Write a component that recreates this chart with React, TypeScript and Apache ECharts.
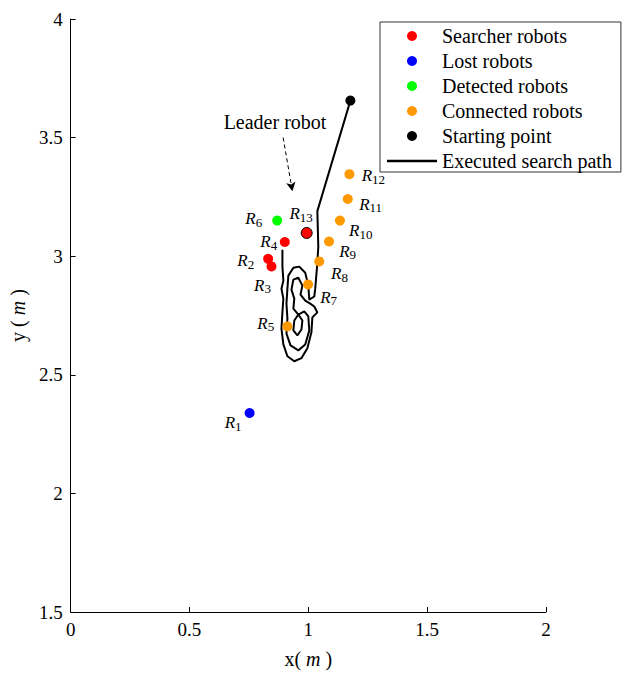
import React, { useEffect, useRef } from "react";
import * as echarts from "echarts";

// Robot positions (metres)
const robotIds = [1, 2, 3, 4, 5, 6, 7, 8, 9, 10, 11, 12, 13];
const robotX = [0.753, 0.831, 0.845, 0.901, 0.912, 0.869, 0.999, 1.046, 1.087, 1.133, 1.166, 1.173, 0.993];
const robotY = [2.339, 2.989, 2.957, 3.06, 2.704, 3.15, 2.881, 2.978, 3.062, 3.15, 3.241, 3.346, 3.098];
const robotState = [
  "lost", "searcher", "searcher", "searcher", "connected", "detected", "connected",
  "connected", "connected", "connected", "connected", "connected", "searcher",
];
const leaderId = 13;

// Where the leader set off
const startPoint = [1.177, 3.656];

// Executed search path of the leader robot
const pathX = [
  1.177, 1.038, 1.042, 1.036, 1.029, 1.025, 1.004, 1.0, 0.987, 0.962, 0.937, 0.916, 0.912, 0.908,
  0.912, 0.908, 0.925, 0.958, 0.987, 1.004, 1.0, 0.983, 0.958, 0.941, 0.937, 0.954, 0.971, 0.975,
  0.958, 0.937, 0.941, 0.929, 0.937, 0.958, 0.975, 0.967, 0.987, 1.008, 1.025, 1.038, 1.017, 1.013,
  0.996, 0.971, 0.941, 0.912, 0.895, 0.887, 0.891, 0.895, 0.887, 0.895, 0.891, 0.891,
];
const pathY = [
  3.656, 3.19, 3.039, 2.947, 2.863, 2.83, 2.817, 2.876, 2.93, 2.956, 2.951, 2.918, 2.863, 2.8,
  2.737, 2.674, 2.624, 2.603, 2.628, 2.687, 2.746, 2.767, 2.754, 2.729, 2.687, 2.666, 2.691, 2.729,
  2.754, 2.779, 2.821, 2.859, 2.901, 2.909, 2.876, 2.838, 2.813, 2.8, 2.788, 2.763, 2.742, 2.679,
  2.612, 2.57, 2.557, 2.578, 2.628, 2.695, 2.763, 2.821, 2.863, 2.897, 2.956, 3.027,
];

// "Leader robot" pointer, from the caption down to the leader
const leaderArrowFrom = [0.894, 3.5];
const leaderArrowTo = [0.933, 3.274];

// Axis ranges and ticks
const xMin = 0, xMax = 2, xStep = 0.5;
const yMin = 1.5, yMax = 4, yStep = 0.5;

// Label placement around each robot marker (px, relative to the marker centre)
const labelOffsets: Record<number, [number, number]> = {
  1: [-16.5, 10], 2: [-22.4, 1.7], 3: [-9, 19], 4: [-16, 0], 5: [-21.7, -3], 6: [-23.4, -1.7],
  7: [20.6, 12.6], 8: [20.3, 12.3], 9: [18.6, 10], 10: [20.8, 10], 11: [22.8, 5], 12: [23.9, 1.7],
  13: [-5.5, -19],
};

const groups = [
  { key: "searcher", name: "Searcher robots", color: "#ff0000" },
  { key: "lost", name: "Lost robots", color: "#0000ff" },
  { key: "detected", name: "Detected robots", color: "#00ff00" },
  { key: "connected", name: "Connected robots", color: "#ff9900" },
];

const SERIF = "Liberation Serif";

export default function App() {
  const ref = useRef<HTMLDivElement>(null);

  useEffect(() => {
    if (!ref.current) return;
    const chart = echarts.init(ref.current, undefined, { renderer: "svg" });

    const robotLabel = {
      show: true,
      position: "inside",
      formatter: (p: any) => `{r|R}{s|${p.data.rid}}`,
      rich: {
        r: { fontFamily: SERIF, fontStyle: "italic", fontSize: 17, lineHeight: 20, color: "#000" },
        s: { fontFamily: SERIF, fontSize: 13, lineHeight: 10, verticalAlign: "bottom", color: "#000" },
      },
    };

    const robotSeries = groups.map((g) => ({
      name: g.name,
      type: "scatter",
      symbol: "circle",
      symbolSize: 10,
      z: 4,
      itemStyle: { color: g.color, opacity: 1 },
      label: robotLabel,
      data: robotIds
        .map((id, i) => ({ id, i }))
        .filter(({ i }) => robotState[i] === g.key)
        .map(({ id, i }) => ({
          value: [robotX[i], robotY[i]],
          rid: id,
          label: { offset: labelOffsets[id] },
          ...(id === leaderId
            ? { symbolSize: 11, itemStyle: { color: g.color, opacity: 1, borderColor: "#000", borderWidth: 1 } }
            : {}),
        })),
    }));

    const axisName = {
      fontFamily: SERIF,
      fontSize: 20,
      color: "#000",
      rich: { i: { fontFamily: SERIF, fontSize: 20, fontStyle: "italic", color: "#000" } },
    };
    const axisCommon = {
      axisLine: { show: true, onZero: false, lineStyle: { color: "#000", width: 1 } },
      axisTick: { show: true, inside: true, length: 5, lineStyle: { color: "#000" } },
      axisLabel: { margin: 8, fontFamily: SERIF, fontSize: 19, color: "#000" },
      splitLine: { show: false },
      nameTextStyle: axisName,
      nameLocation: "middle",
    };

    chart.setOption({
      animation: false,
      backgroundColor: "#fff",
      textStyle: { fontFamily: SERIF },
      grid: { left: 68, right: 81, top: 19, bottom: 59, containLabel: false },
      xAxis: {
        type: "value",
        min: xMin,
        max: xMax,
        interval: xStep,
        name: "x( {i|m} )",
        nameGap: 37,
        ...axisCommon,
      },
      yAxis: {
        type: "value",
        min: yMin,
        max: yMax,
        interval: yStep,
        name: "y ( {i|m} )",
        nameGap: 42,
        ...axisCommon,
      },
      legend: {
        orient: "vertical",
        left: 380,
        top: 22,
        itemWidth: 50,
        itemHeight: 10,
        itemGap: 5,
        padding: [4, 9, 1, 7],
        borderColor: "#333",
        borderWidth: 1,
        backgroundColor: "#fff",
        selectedMode: false,
        textStyle: { fontFamily: SERIF, fontSize: 20, lineHeight: 20, color: "#000" },
        data: [
          "Searcher robots",
          "Lost robots",
          "Detected robots",
          "Connected robots",
          "Starting point",
          { name: "Executed search path", icon: "path://M0,0 H50 V2.4 H0 Z" },
        ],
      },
      graphic: [
        {
          type: "text",
          x: 275,
          y: 122,
          style: {
            text: "Leader robot",
            fontFamily: SERIF,
            fontSize: 20,
            fill: "#000",
            align: "center",
            verticalAlign: "middle",
          },
        },
      ],
      series: [
        {
          name: "Executed search path",
          type: "line",
          symbol: "none",
          showSymbol: false,
          z: 2,
          lineStyle: { color: "#000", width: 2 },
          itemStyle: { color: "#000" },
          data: pathX.map((x, i) => [x, pathY[i]]),
          markLine: {
            silent: true,
            symbol: ["none", "arrow"],
            symbolSize: [7, 9],
            label: { show: false },
            lineStyle: { color: "#000", width: 1, type: [4, 3] },
            data: [[{ coord: leaderArrowFrom }, { coord: leaderArrowTo }]],
          },
        },
        ...robotSeries,
        {
          name: "Starting point",
          type: "scatter",
          symbol: "circle",
          symbolSize: 10,
          z: 4,
          itemStyle: { color: "#000", opacity: 1 },
          data: [startPoint],
        },
      ],
    });

    return () => chart.dispose();
  }, []);

  return (
    <div
      ref={ref}
      style={{ position: "fixed", left: 0, top: 0, width: 627, height: 674, background: "#fff" }}
    />
  );
}
